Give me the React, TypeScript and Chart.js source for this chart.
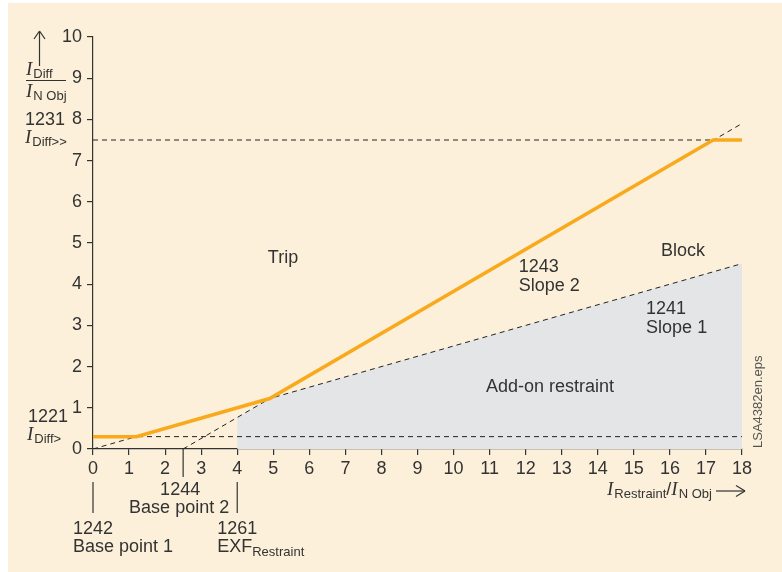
import React, { useEffect, useRef } from "react";
import { Chart, registerables } from "chart.js";

Chart.register(...registerables);

// ---- data ----
const xTickValues = [0, 1, 2, 3, 4, 5, 6, 7, 8, 9, 10, 11, 12, 13, 14, 15, 16, 17, 18];
const yTickValues = [0, 1, 2, 3, 4, 5, 6, 7, 8, 9, 10];

// tripping characteristic (orange)
const tripX = [0, 1.2, 4.9, 17.2, 18];
const tripY = [0.3, 0.3, 1.225, 7.5, 7.5];

// slope 1 (dashed, through origin)
const slope1X = [0, 18];
const slope1Y = [0, 4.5];

// slope 2 (dashed, from base point 2)
const slope2X = [2.5, 18];
const slope2Y = [0, 7.9];

// I_Diff> threshold (dashed)
const diffLowX = [0, 18];
const diffLowY = [0.3, 0.3];

// I_Diff>> threshold (dashed)
const diffHighX = [0, 18];
const diffHighY = [7.5, 7.5];

// add-on restraint area (grey)
const restraintX = [4, 4, 4.9, 18, 18];
const restraintY = [0, 0.76, 1.225, 4.5, 0];

const CREAM = "#fdf0da";
const TEXT = "#333333";
const ORANGE = "#f8a91c";
const GREY = "#e4e5e7";
const SANS = '"Liberation Sans", Arial, Helvetica, sans-serif';
const SERIF_I = 'italic 19px "Liberation Serif", "Times New Roman", serif';

const pts = (xs: number[], ys: number[]) => xs.map((v, i) => ({ x: v, y: ys[i] }));

const annotPlugin = {
  id: "annot",
  beforeDraw(chart: any) {
    const { ctx, width, height } = chart;
    ctx.save();
    ctx.fillStyle = "#ffffff";
    ctx.fillRect(0, 0, width, height);
    ctx.fillStyle = CREAM;
    ctx.fillRect(8, 3, width - 8, height - 3);
    ctx.restore();
  },
  afterDraw(chart: any) {
    const { ctx } = chart;
    const xs = chart.scales.x;
    const ys = chart.scales.y;
    const X = (v: number) => xs.getPixelForValue(v);
    const Y = (v: number) => ys.getPixelForValue(v);
    ctx.save();
    ctx.fillStyle = TEXT;
    ctx.strokeStyle = TEXT;
    ctx.textBaseline = "alphabetic";
    const txt = (s: string, px: number, py: number, font: string, align: CanvasTextAlign = "left") => {
      ctx.font = font;
      ctx.textAlign = align;
      ctx.fillText(s, px, py);
      return ctx.measureText(s).width;
    };
    const f = (n: number) => `${n}px ${SANS}`;
    const line = (x1: number, y1: number, x2: number, y2: number, w = 1.2) => {
      ctx.lineWidth = w;
      ctx.beginPath();
      ctx.moveTo(x1, y1);
      ctx.lineTo(x2, y2);
      ctx.stroke();
    };
    // italic I with subscript
    const iSub = (px: number, base: number, sub: string) => {
      const w = txt("I", px, base, SERIF_I);
      return w + txt(sub, px + w + 1, base + 3, f(13)) + 1;
    };

    // in-plot labels
    txt("Trip", X(4.85), Y(4.52), f(18));
    txt("Block", X(15.75), Y(4.68), f(18));
    txt("1243", X(11.81), Y(4.3), f(18));
    txt("Slope 2", X(11.81), Y(3.83), f(18));
    txt("1241", X(15.34), Y(3.28), f(18));
    txt("Slope 1", X(15.34), Y(2.82), f(18));
    txt("Add-on restraint", X(10.9), Y(1.38), f(18));

    // y-axis title: arrow and fraction
    line(39.5, 32, 39.5, 66);
    line(39.5, 31, 34, 39);
    line(39.5, 31, 45, 39);
    iSub(26, 75, "Diff");
    line(26, 80.5, 66, 80.5, 1.2);
    iSub(26, 97, "N Obj");

    // I_Diff>> label
    const yHi = Y(7.5);
    txt("1231", 25, yHi - 15, f(18));
    iSub(25, yHi + 3, "Diff>>");
    // I_Diff> label
    const yLo = Y(0.3);
    txt("1221", 28, yLo - 14.5, f(18));
    iSub(27, yLo + 3.5, "Diff>");

    // markers below x axis
    const y0 = Y(0);
    line(X(0), y0 + 33, X(0), y0 + 64);
    line(X(2.5), y0, X(2.5), y0 + 28);
    line(X(4), y0 + 33, X(4), y0 + 64);
    txt("1244", X(2.5) - 3, y0 + 46, f(18), "center");
    txt("Base point 2", X(2.5) - 4, y0 + 64, f(18), "center");
    txt("1242", X(0) - 20, y0 + 85, f(18));
    txt("Base point 1", X(0) - 20, y0 + 103, f(18));
    txt("1261", X(4) - 20, y0 + 85, f(18));
    const we = txt("EXF", X(4) - 20, y0 + 103, f(18));
    txt("Restraint", X(4) - 20 + we, y0 + 107, f(13));

    // x-axis title
    let cx = 607;
    const tb = y0 + 46;
    cx += iSub(cx, tb, "Restraint");
    cx += txt("/", cx, tb, f(18));
    cx += iSub(cx, tb, "N Obj");
    const ay = y0 + 42;
    line(716, ay, 745, ay);
    line(745, ay, 736, ay - 5.5);
    line(745, ay, 736, ay + 5.5);

    // file name
    ctx.save();
    ctx.translate(762, 448);
    ctx.rotate(-Math.PI / 2);
    ctx.fillStyle = "#555555";
    txt("LSA4382en.eps", 0, 0, f(13));
    ctx.restore();

    ctx.restore();
  },
};

export default function App() {
  const ref = useRef<HTMLCanvasElement | null>(null);
  useEffect(() => {
    if (!ref.current) return;
    const dashed = {
      showLine: true,
      borderColor: "#222222",
      borderWidth: 1,
      borderDash: [5, 4],
      pointRadius: 0,
      fill: false,
      order: 1,
    };
    const chart = new Chart(ref.current, {
      type: "scatter",
      data: {
        datasets: [
          {
            data: pts(tripX, tripY),
            showLine: true,
            borderColor: ORANGE,
            borderWidth: 3.5,
            pointRadius: 0,
            fill: false,
            order: 0,
          },
          { ...dashed, data: pts(slope1X, slope1Y) },
          { ...dashed, data: pts(slope2X, slope2Y) },
          { ...dashed, data: pts(diffLowX, diffLowY) },
          { ...dashed, data: pts(diffHighX, diffHighY) },
          {
            data: pts(restraintX, restraintY),
            showLine: true,
            borderWidth: 0,
            borderColor: "rgba(0,0,0,0)",
            backgroundColor: GREY,
            pointRadius: 0,
            fill: "origin",
            order: 2,
          },
        ] as any,
      },
      options: {
        animation: false,
        responsive: false,
        devicePixelRatio: 1,
        events: [],
        layout: { padding: { left: 0, top: 37, right: 40, bottom: 93 } },
        plugins: { legend: { display: false }, tooltip: { enabled: false } },
        scales: {
          x: {
            type: "linear",
            min: 0,
            max: 18,
            afterFit: (s: any) => {
              s.height = 30;
            },
            afterBuildTicks: (s: any) => {
              s.ticks = xTickValues.map((v) => ({ value: v }));
            },
            ticks: { color: TEXT, font: { family: SANS, size: 18 }, padding: 3, autoSkip: false, maxRotation: 0 },
            grid: { drawOnChartArea: false, drawTicks: true, tickLength: 6, color: TEXT, lineWidth: 1.2 },
            border: { display: true, color: TEXT, width: 1.2 },
          },
          y: {
            type: "linear",
            min: 0,
            max: 10,
            afterFit: (s: any) => {
              s.width = 93;
            },
            afterBuildTicks: (s: any) => {
              s.ticks = yTickValues.map((v) => ({ value: v }));
            },
            ticks: { color: TEXT, font: { family: SANS, size: 18 }, padding: 5, autoSkip: false },
            grid: { drawOnChartArea: false, drawTicks: true, tickLength: 6, color: TEXT, lineWidth: 1.2 },
            border: { display: true, color: TEXT, width: 1.2 },
          },
        },
      } as any,
      plugins: [annotPlugin],
    });
    return () => chart.destroy();
  }, []);
  return (
    <div style={{ position: "absolute", left: 0, top: 0, width: 782, height: 572 }}>
      <canvas ref={ref} width={782} height={572} style={{ display: "block" }} />
    </div>
  );
}
